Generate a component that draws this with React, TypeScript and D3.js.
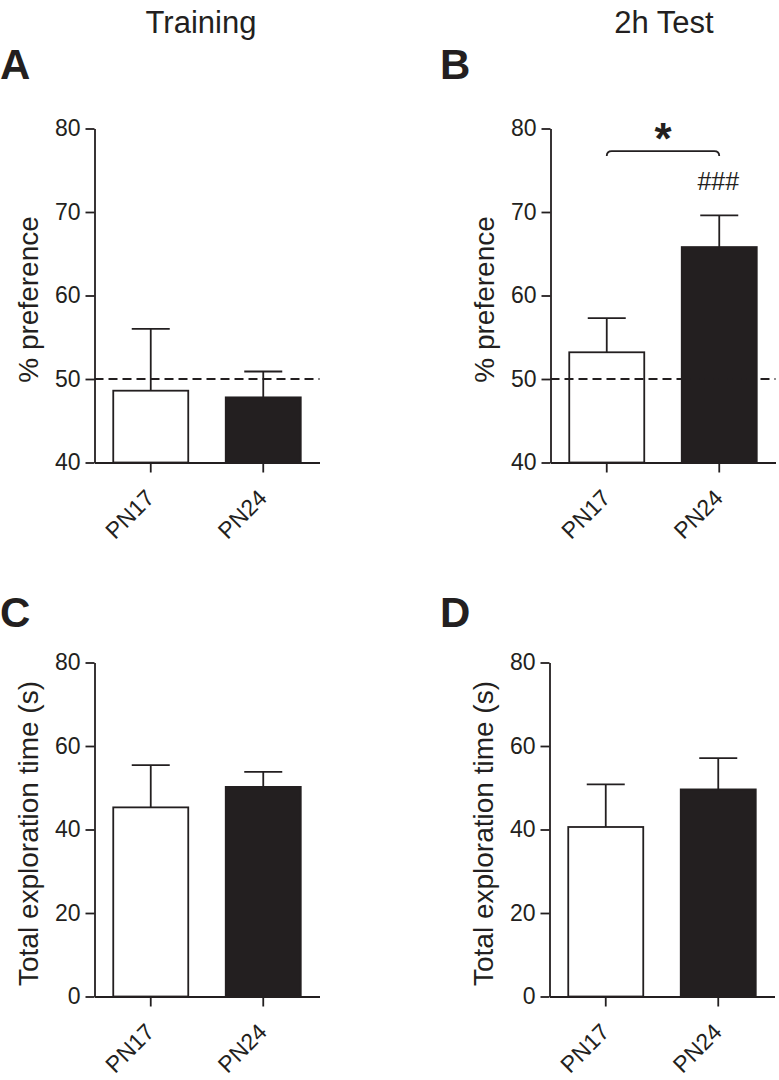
import React, { useEffect, useRef } from "react";
import * as d3 from "d3";

const categories = ["PN17", "PN24"];
const prefTraining = [48.6, 47.8];
const prefTrainingSem = [7.4, 3.1];
const prefTest = [53.2, 65.8];
const prefTestSem = [4.1, 3.8];
const timeTraining = [45.3, 50.2];
const timeTrainingSem = [10.1, 3.6];
const timeTest = [40.6, 49.6];
const timeTestSem = [10.2, 7.5];
const prefTicks = [40, 50, 60, 70, 80];
const timeTicks = [0, 20, 40, 60, 80];
const chanceLevel = 50;
const barFills = ["#ffffff", "#231f20"];

const INK = "#231f20";
const FONT = "'Liberation Sans', Arial, Helvetica, sans-serif";
const W = 225;
const H = 334;
const SW = 1.8;

interface PanelOpts {
  left: number;
  top: number;
  ticks: number[];
  values: number[];
  sems: number[];
  label: string;
  letter: string;
  letterX: number;
  letterY: number;
  chance?: number;
  signif?: boolean;
}

function drawPanel(svg: d3.Selection<SVGSVGElement, unknown, null, undefined>, o: PanelOpts) {
  const g = svg.append("g").attr("transform", `translate(${o.left},${o.top})`);
  const x = d3.scaleBand().domain(categories).range([0, W]).paddingInner(1 / 3).paddingOuter(1 / 6);
  const y = d3
    .scaleLinear()
    .domain([o.ticks[0], o.ticks[o.ticks.length - 1]])
    .range([H, 0]);
  const bw = x.bandwidth();

  g.selectAll(".bar")
    .data(o.values)
    .enter()
    .append("rect")
    .attr("x", (d, i) => x(categories[i]) as number)
    .attr("y", (d) => y(d))
    .attr("width", bw)
    .attr("height", (d) => H - y(d))
    .attr("fill", (d, i) => barFills[i])
    .attr("stroke", INK)
    .attr("stroke-width", SW);

  if (o.chance !== undefined) {
    g.append("line")
      .attr("x1", 0)
      .attr("x2", W)
      .attr("y1", y(o.chance))
      .attr("y2", y(o.chance))
      .attr("stroke", INK)
      .attr("stroke-width", SW)
      .attr("stroke-dasharray", "9,5");
  }

  // upper error bars only
  o.values.forEach((v, i) => {
    const cx = (x(categories[i]) as number) + bw / 2;
    const top = y(v + o.sems[i]);
    g.append("line")
      .attr("x1", cx)
      .attr("x2", cx)
      .attr("y1", y(v))
      .attr("y2", top)
      .attr("stroke", INK)
      .attr("stroke-width", SW);
    g.append("line")
      .attr("x1", cx - 19)
      .attr("x2", cx + 19)
      .attr("y1", top)
      .attr("y2", top)
      .attr("stroke", INK)
      .attr("stroke-width", SW);
  });

  const yAxis = d3.axisLeft(y).tickValues(o.ticks).tickSize(9).tickSizeOuter(0).tickPadding(5);
  const ya = g.append("g").call(yAxis);
  ya.attr("font-family", FONT).attr("font-size", 23);
  ya.selectAll("path,line").attr("stroke", INK).attr("stroke-width", SW);
  ya.selectAll("text").attr("fill", INK);

  const xAxis = d3.axisBottom(x).tickSize(10).tickSizeOuter(0);
  const xa = g.append("g").attr("transform", `translate(0,${H})`).call(xAxis);
  xa.attr("font-family", FONT).attr("font-size", 23);
  xa.selectAll("path,line").attr("stroke", INK).attr("stroke-width", SW);
  xa.selectAll("text")
    .attr("fill", INK)
    .attr("text-anchor", "end")
    .attr("dy", null)
    .attr("y", 0)
    .attr("transform", "translate(5,37) rotate(-45)");

  g.append("text")
    .attr("transform", `translate(-57,${H / 2 + 4}) rotate(-90)`)
    .attr("text-anchor", "middle")
    .attr("font-family", FONT)
    .attr("font-size", 28)
    .attr("fill", INK)
    .text(o.label);

  svg
    .append("text")
    .attr("x", o.letterX)
    .attr("y", o.letterY)
    .attr("font-family", FONT)
    .attr("font-weight", "bold")
    .attr("font-size", 42)
    .attr("fill", INK)
    .text(o.letter);

  if (o.signif) {
    const x1 = (x(categories[0]) as number) + bw / 2;
    const x2 = (x(categories[1]) as number) + bw / 2;
    const by = y(77.3);
    g.append("path")
      .attr(
        "d",
        `M${x1},${by + 5} Q${x1},${by} ${x1 + 5},${by} L${x2 - 5},${by} Q${x2},${by} ${x2},${by + 5}`
      )
      .attr("fill", "none")
      .attr("stroke", INK)
      .attr("stroke-width", SW);
    g.append("text")
      .attr("x", (x1 + x2) / 2)
      .attr("y", y(77.0))
      .attr("text-anchor", "middle")
      .attr("font-family", FONT)
      .attr("font-weight", "bold")
      .attr("font-size", 44)
      .attr("fill", INK)
      .text("*");
    g.append("text")
      .attr("x", x2 - 1)
      .attr("y", y(72.6))
      .attr("text-anchor", "middle")
      .attr("font-family", FONT)
      .attr("font-size", 25)
      .attr("fill", INK)
      .text("###");
  }
}

const App: React.FC = () => {
  const svgRef = useRef<SVGSVGElement | null>(null);

  useEffect(() => {
    const svg = d3.select(svgRef.current as SVGSVGElement);
    svg.selectAll("*").remove();

    svg
      .append("text")
      .attr("x", 201)
      .attr("y", 33)
      .attr("text-anchor", "middle")
      .attr("font-family", FONT)
      .attr("font-size", 31)
      .attr("fill", INK)
      .text("Training");
    svg
      .append("text")
      .attr("x", 664)
      .attr("y", 33)
      .attr("text-anchor", "middle")
      .attr("font-family", FONT)
      .attr("font-size", 31)
      .attr("fill", INK)
      .text("2h Test");

    drawPanel(svg, {
      left: 94.5,
      top: 128.5,
      ticks: prefTicks,
      values: prefTraining,
      sems: prefTrainingSem,
      label: "% preference",
      letter: "A",
      letterX: 0,
      letterY: 79,
      chance: chanceLevel,
    });
    drawPanel(svg, {
      left: 550.5,
      top: 128.5,
      ticks: prefTicks,
      values: prefTest,
      sems: prefTestSem,
      label: "% preference",
      letter: "B",
      letterX: 440,
      letterY: 79,
      chance: chanceLevel,
      signif: true,
    });
    drawPanel(svg, {
      left: 94.5,
      top: 662.5,
      ticks: timeTicks,
      values: timeTraining,
      sems: timeTrainingSem,
      label: "Total exploration time (s)",
      letter: "C",
      letterX: 0,
      letterY: 627,
    });
    drawPanel(svg, {
      left: 549.5,
      top: 662.5,
      ticks: timeTicks,
      values: timeTest,
      sems: timeTestSem,
      label: "Total exploration time (s)",
      letter: "D",
      letterX: 440,
      letterY: 627,
    });
  }, []);

  return (
    <svg
      ref={svgRef}
      width={779}
      height={1080}
      style={{ position: "absolute", left: 0, top: 0, background: "#ffffff" }}
    ></svg>
  );
};

export default App;
